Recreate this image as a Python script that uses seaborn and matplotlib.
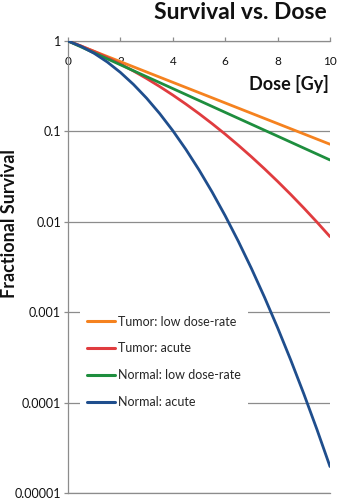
import matplotlib
matplotlib.use("Agg")
import matplotlib.pyplot as plt
from matplotlib.ticker import NullLocator
import pandas as pd
import seaborn as sns

# Dose grid (Gy) for the acute curves and for the low dose-rate curves
dose_acute = [0.0, 0.5, 1.0, 1.5, 2.0, 2.5, 3.0, 3.5, 4.0, 4.5, 5.0,
              5.5, 6.0, 6.5, 7.0, 7.5, 8.0, 8.5, 9.0, 9.5, 10.0]
dose_ldr = [0, 1, 2, 3, 4, 5, 6, 7, 8, 9, 10]

# Fractional survival
tumor_ldr = [1.0, 0.769, 0.591, 0.454, 0.349, 0.2685, 0.2064, 0.1587,
             0.1220, 0.0938, 0.0721]
tumor_acute = [1.0, 0.8806, 0.7655, 0.6570, 0.5567, 0.4657, 0.3846, 0.3135,
               0.2524, 0.2005, 0.1573, 0.1218, 0.0932, 0.0703, 0.0524,
               0.03855, 0.0280, 0.02008, 0.01421, 0.00993, 0.00685]
normal_ldr = [1.0, 0.739, 0.5455, 0.4029, 0.2977, 0.2198, 0.1623, 0.1199,
              0.0886, 0.0654, 0.0483]
normal_acute = [1.0, 0.8730, 0.7302, 0.5852, 0.4493, 0.3306, 0.2331, 0.1574,
                0.1019, 0.06318, 0.03754, 0.02137, 0.01166, 0.006093,
                0.003051, 0.001464, 0.0006731, 0.0002965, 0.0001251,
                5.061e-05, 1.961e-05]

series_names = ["Tumor: low dose-rate", "Tumor: acute",
                "Normal: low dose-rate", "Normal: acute"]
series_colors = ["#F5821F", "#E03C3F", "#1E8E3E", "#1F4E8D"]

y_ticks = [1, 0.1, 0.01, 0.001, 0.0001, 0.00001]
y_tick_labels = ["1", "0.1", "0.01", "0.001", "0.0001", "0.00001"]
x_ticks = [0, 2, 4, 6, 8, 10]

frames = []
for name, xs, ys in zip(series_names,
                        [dose_ldr, dose_acute, dose_ldr, dose_acute],
                        [tumor_ldr, tumor_acute, normal_ldr, normal_acute]):
    frames.append(pd.DataFrame({"Dose": xs, "Survival": ys, "Series": name}))
df = pd.concat(frames, ignore_index=True)

sns.set_style("white")
plt.rcParams["font.family"] = ["Lato", "DejaVu Sans"]

fig = plt.figure(figsize=(3.38, 5.0), dpi=100)
ax = fig.add_axes([68 / 338, 1 - 493 / 500, 262 / 338, 452 / 500])

grid_gray = "#8C8C8C"
text_color = "#111111"

sns.lineplot(data=df, x="Dose", y="Survival", hue="Series",
             hue_order=series_names, palette=series_colors,
             estimator=None, sort=False, linewidth=2.0, ax=ax, zorder=3)

ax.set_yscale("log")
ax.set_ylim(1e-5, 1)
ax.set_xlim(0, 10)
ax.set_yticks(y_ticks, y_tick_labels)
ax.yaxis.set_minor_locator(NullLocator())
ax.set_xticks(x_ticks, [str(t) for t in x_ticks])

ax.grid(axis="y", color=grid_gray, linewidth=0.9)
ax.grid(axis="x", visible=False)
for side in ["left", "top", "bottom"]:
    ax.spines[side].set_visible(True)
    ax.spines[side].set_color(grid_gray)
    ax.spines[side].set_linewidth(0.9)
ax.spines["right"].set_visible(False)

ax.tick_params(axis="y", which="major", left=True, direction="out",
               length=3, width=0.9, color=grid_gray, pad=2,
               labelsize=9, labelcolor=text_color)
ax.tick_params(axis="x", which="major", top=True, bottom=False,
               labeltop=True, labelbottom=False, direction="out",
               length=3, width=0.9, color=grid_gray, pad=-22,
               labelsize=8.5, labelcolor=text_color)

ax.set_xlabel("Dose [Gy]", fontsize=13, fontweight="bold", color=text_color)
ax.xaxis.set_label_coords(0.995, 0.905)
ax.xaxis.label.set_ha("right")
ax.xaxis.label.set_va("center")

ax.set_ylabel("Fractional Survival", fontsize=13, fontweight="bold",
              color=text_color)
ax.yaxis.set_label_coords(-0.19, 0.597)

leg = ax.legend(loc="upper left", bbox_to_anchor=(0.044, 0.409),
                borderaxespad=0, frameon=True, fontsize=9,
                handlelength=2.2, handletextpad=0.25, labelspacing=1.18,
                borderpad=0.6)
leg.get_frame().set_facecolor("white")
leg.get_frame().set_edgecolor("none")
leg.get_frame().set_alpha(1)
leg.set_zorder(5)
for line in leg.get_lines():
    line.set_linewidth(2.2)

fig.text(0.967, 0.975, "Survival vs. Dose", ha="right", va="center",
         fontsize=16.5, fontweight="bold", color=text_color)

fig.savefig("out.png", dpi=100)
